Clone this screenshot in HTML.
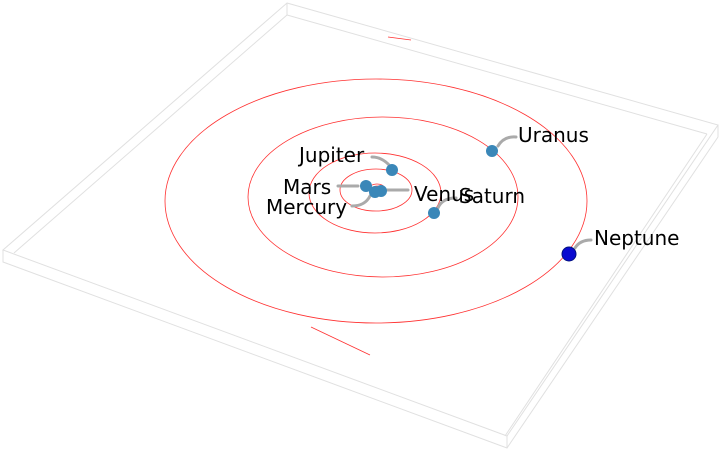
<!DOCTYPE html>
<html><head><meta charset="utf-8"><style>
html,body{margin:0;padding:0;background:#fff;}
svg{display:block;}
text{font-family:"DejaVu Sans","Liberation Sans",sans-serif;font-size:20px;fill:#000;}
</style></head><body>
<svg width="720" height="450" viewBox="0 0 720 450" xmlns="http://www.w3.org/2000/svg">
<g fill="none" stroke="#e0e0e0" stroke-width="1">
<polygon points="287,3 718,125 507,436 3,250"/>
<polyline points="3,250 3,262 507,448 718,137 718,125"/>
<line x1="507" y1="436" x2="507" y2="448"/>
<polyline points="287,3 287,15 707,134"/>
<line x1="287" y1="15" x2="14" y2="253"/>
<line x1="707" y1="134" x2="505" y2="436"/>
</g>
<g fill="none" stroke="#ff3030" stroke-width="0.8">
<ellipse cx="376" cy="201" rx="211" ry="122"/>
<ellipse cx="383" cy="197" rx="135" ry="80"/>
<ellipse cx="375" cy="193" rx="66" ry="40"/>
<ellipse cx="376" cy="190" rx="36" ry="21"/>
<ellipse cx="377" cy="189" rx="8" ry="5"/>
<ellipse cx="377" cy="189" rx="5" ry="3"/>
<line x1="388" y1="37" x2="411" y2="40"/>
<line x1="311" y1="327" x2="370" y2="355"/>
</g>
<g fill="none" stroke="#aaa" stroke-width="3" stroke-linecap="round">
<path d="M498,146 Q504,136 516,137"/>
<path d="M390,166 Q382,157 372,157"/>
<path d="M358,186 L338,186"/>
<path d="M370,196 Q365,206 352,206"/>
<path d="M386,190 L408,190"/>
<path d="M438,208 Q442,198 456,198"/>
<path d="M575,248 Q580,240 591,240"/>
</g>
<g fill="#3a87b8">
<circle cx="492" cy="151" r="6"/>
<circle cx="392" cy="170" r="6"/>
<circle cx="366" cy="186" r="6"/>
<circle cx="375" cy="192" r="6"/>
<circle cx="381" cy="191" r="6"/>
<circle cx="434" cy="213" r="6"/>
</g>
<circle cx="569" cy="254" r="7" fill="#0a0ad0" stroke="#001080" stroke-width="1"/>
<text x="518" y="142">Uranus</text>
<text x="299" y="162">Jupiter</text>
<text x="283" y="194">Mars</text>
<text x="266" y="214">Mercury</text>
<text x="414" y="201">Venus</text>
<text x="459" y="203">Saturn</text>
<text x="594" y="245">Neptune</text>
</svg>
</body></html>
